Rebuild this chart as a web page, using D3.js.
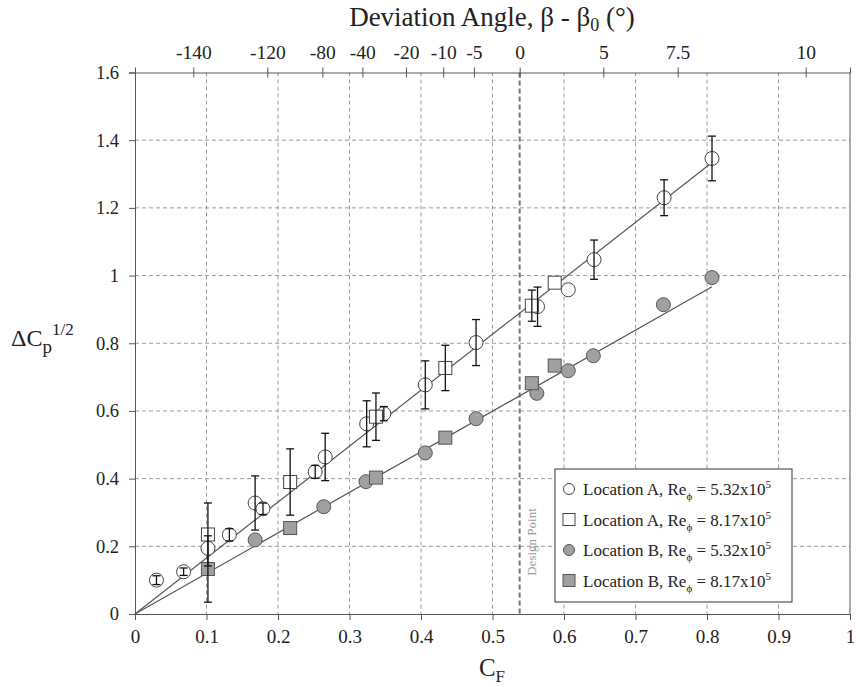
<!DOCTYPE html>
<html>
<head>
<meta charset="utf-8">
<script src="https://cdn.jsdelivr.net/npm/d3@7"></script>
<style>
  body { margin: 0; background: #fff; }
  svg text { font-family: "Times New Roman", "Liberation Serif", "DejaVu Serif", serif; fill: #222; }
</style>
</head>
<body>
<svg id="chart" width="856" height="687"></svg>
<script>
// Location A, Re = 5.32x10^5 (open circles): C_F, dCp^1/2, error
const locA532_cf  = [0.030, 0.068, 0.102, 0.132, 0.168, 0.179, 0.252, 0.266, 0.324, 0.348, 0.406, 0.477, 0.563, 0.606, 0.642, 0.740, 0.807];
const locA532_dcp = [0.100, 0.125, 0.194, 0.234, 0.328, 0.311, 0.420, 0.464, 0.562, 0.592, 0.677, 0.802, 0.908, 0.958, 1.047, 1.230, 1.346];
const locA532_err = [0.013, 0.011, 0.000, 0.018, 0.080, 0.017, 0.019, 0.070, 0.068, 0.021, 0.071, 0.068, 0.058, 0.000, 0.058, 0.053, 0.066];

// Location A, Re = 8.17x10^5 (open squares)
const locA817_cf  = [0.102, 0.217, 0.337, 0.434, 0.555, 0.587];
const locA817_dcp = [0.235, 0.390, 0.583, 0.727, 0.911, 0.979];
const locA817_err = [0.093, 0.098, 0.070, 0.067, 0.046, 0.000];

// Location B, Re = 5.32x10^5 (filled circles)
const locB532_cf  = [0.168, 0.264, 0.323, 0.406, 0.477, 0.562, 0.606, 0.641, 0.739, 0.807];
const locB532_dcp = [0.219, 0.317, 0.391, 0.476, 0.577, 0.652, 0.719, 0.763, 0.914, 0.994];

// Location B, Re = 8.17x10^5 (filled squares)
const locB817_cf  = [0.102, 0.217, 0.337, 0.434, 0.555, 0.587];
const locB817_dcp = [0.133, 0.254, 0.403, 0.521, 0.682, 0.734];
const locB817_err = [0.098, 0, 0, 0, 0, 0];

// linear fits (end points)
const fitA = [[0, 0], [0.807, 1.334]];
const fitB = [[0, 0], [0.807, 0.967]];

const designPoint = 0.538;

// axis ticks
const xTicks = [0, 0.1, 0.2, 0.3, 0.4, 0.5, 0.6, 0.7, 0.8, 0.9, 1];
const yTicks = [0, 0.2, 0.4, 0.6, 0.8, 1, 1.2, 1.4, 1.6];
const topTickPos    = [0.0815, 0.185, 0.262, 0.318, 0.379, 0.431, 0.474, 0.538, 0.655, 0.759, 0.938];
const topTickLabels = ['-140', '-120', '-80', '-40', '-20', '-10', '-5', '0', '5', '7.5', '10'];

const serif = '"Times New Roman", "Liberation Serif", "DejaVu Serif", serif';
const svg = d3.select('#chart');
const pLeft = 135, pRight = 850, pTop = 72.5, pBottom = 614;

const x = d3.scaleLinear().domain([0, 1]).range([pLeft, pRight]);
const y = d3.scaleLinear().domain([0, 1.6]).range([pBottom, pTop]);

// grid
svg.append('g').selectAll('line')
  .data(xTicks.slice(1, -1))
  .join('line')
  .attr('x1', d => x(d)).attr('x2', d => x(d))
  .attr('y1', pTop).attr('y2', pBottom)
  .style('stroke', '#9a9a9a').style('stroke-dasharray', '4,3').style('stroke-width', 1);

svg.append('g').selectAll('line')
  .data(yTicks.slice(1, -1))
  .join('line')
  .attr('x1', pLeft).attr('x2', pRight)
  .attr('y1', d => y(d)).attr('y2', d => y(d))
  .style('stroke', '#9a9a9a').style('stroke-dasharray', '4,3').style('stroke-width', 1);

// design point
svg.append('line')
  .attr('x1', x(designPoint)).attr('x2', x(designPoint))
  .attr('y1', pTop).attr('y2', pBottom)
  .style('stroke', '#777').style('stroke-width', 2).style('stroke-dasharray', '5,3');

svg.append('text')
  .attr('transform', `translate(${x(designPoint) + 16},542) rotate(-90)`)
  .attr('text-anchor', 'middle')
  .style('font-size', '13px')
  .style('fill', '#999')
  .text('Design Point');

// axes
const axisColor = '#555';
const xAxis = svg.append('g')
  .attr('transform', `translate(0,${pBottom})`)
  .call(d3.axisBottom(x).tickValues(xTicks).tickSizeOuter(0).tickSize(6).tickPadding(10)
    .tickFormat(d => d3.format('~g')(d)));

const yAxis = svg.append('g')
  .attr('transform', `translate(${pLeft},0)`)
  .call(d3.axisLeft(y).tickValues(yTicks).tickSizeOuter(0).tickSize(6).tickPadding(10)
    .tickFormat(d => d3.format('~g')(d)));

const topAxis = svg.append('g')
  .attr('transform', `translate(0,${pTop})`)
  .call(d3.axisTop(x).tickValues(topTickPos).tickSizeOuter(0).tickSize(5).tickPadding(9)
    .tickFormat((d, i) => topTickLabels[i]));
topAxis.selectAll('.tick line').attr('y1', 5).attr('y2', -5);

[xAxis, yAxis, topAxis].forEach(g => {
  g.attr('font-family', null);
  g.select('.domain').style('stroke', axisColor);
  g.selectAll('.tick line').style('stroke', axisColor);
  g.selectAll('text').style('font-family', serif).style('fill', '#222');
});
xAxis.selectAll('text').style('font-size', '19px');
yAxis.selectAll('text').style('font-size', '18.5px');
topAxis.selectAll('text').style('font-size', '19.5px');

svg.append('line')
  .attr('x1', pRight).attr('x2', pRight).attr('y1', pTop).attr('y2', pBottom)
  .style('stroke', axisColor);

// fits
const line = d3.line().x(d => x(d[0])).y(d => y(d[1]));
[fitA, fitB].forEach(f => {
  svg.append('path').attr('d', line(f))
    .style('fill', 'none').style('stroke', '#555').style('stroke-width', 1.2);
});

// markers
const fillGray = '#a0a0a0', strokeDark = '#555', strokeOpen = '#444';
const R = 7, S = 13;

function circles(cf, dcp, fill, stroke) {
  svg.append('g').selectAll('circle')
    .data(cf)
    .join('circle')
    .attr('cx', d => x(d))
    .attr('cy', (d, i) => y(dcp[i]))
    .attr('r', R)
    .style('fill', fill).style('stroke', stroke).style('stroke-width', 1);
}

function squares(cf, dcp, fill, stroke) {
  svg.append('g').selectAll('rect')
    .data(cf)
    .join('rect')
    .attr('x', d => x(d) - S / 2)
    .attr('y', (d, i) => y(dcp[i]) - S / 2)
    .attr('width', S).attr('height', S)
    .style('fill', fill).style('stroke', stroke).style('stroke-width', 1);
}

function errorBars(cf, dcp, err) {
  const g = svg.append('g');
  cf.forEach((c, i) => {
    if (!err[i]) return;
    const cx = x(c), y0 = y(dcp[i] - err[i]), y1 = y(dcp[i] + err[i]);
    g.append('line').attr('x1', cx).attr('x2', cx).attr('y1', y0).attr('y2', y1);
    g.append('line').attr('x1', cx - 4).attr('x2', cx + 4).attr('y1', y0).attr('y2', y0);
    g.append('line').attr('x1', cx - 4).attr('x2', cx + 4).attr('y1', y1).attr('y2', y1);
  });
  g.selectAll('line').style('stroke', '#111').style('stroke-width', 1.3);
}

circles(locB532_cf, locB532_dcp, fillGray, strokeDark);
squares(locB817_cf, locB817_dcp, fillGray, strokeDark);
circles(locA532_cf, locA532_dcp, '#fff', strokeOpen);
squares(locA817_cf, locA817_dcp, '#fff', strokeOpen);
errorBars(locB817_cf, locB817_dcp, locB817_err);
errorBars(locA532_cf, locA532_dcp, locA532_err);
errorBars(locA817_cf, locA817_dcp, locA817_err);

// legend
const legendItems = [
  { shape: 'circle', fill: '#fff', stroke: strokeOpen, loc: 'A', re: '5.32' },
  { shape: 'square', fill: '#fff', stroke: strokeOpen, loc: 'A', re: '8.17' },
  { shape: 'circle', fill: fillGray, stroke: strokeDark, loc: 'B', re: '5.32' },
  { shape: 'square', fill: fillGray, stroke: strokeDark, loc: 'B', re: '8.17' }
];
const lg = svg.append('g');
lg.append('rect').attr('x', 555).attr('y', 469).attr('width', 237).attr('height', 133)
  .style('fill', '#fff').style('stroke', '#333').style('stroke-width', 1);

legendItems.forEach((d, i) => {
  const cy = 489 + i * 30.5;
  if (d.shape === 'circle') {
    lg.append('circle').attr('cx', 569).attr('cy', cy).attr('r', 5.5)
      .style('fill', d.fill).style('stroke', d.stroke);
  } else {
    lg.append('rect').attr('x', 563).attr('y', cy - 6).attr('width', 12).attr('height', 12)
      .style('fill', d.fill).style('stroke', d.stroke);
  }
  const t = lg.append('text').attr('x', 583).attr('y', cy + 6).style('font-size', '17px');
  t.append('tspan').text(`Location ${d.loc}, Re`);
  t.append('tspan').attr('dy', 5).style('font-size', '11px').text('ϕ');
  t.append('tspan').attr('dy', -5).text(` = ${d.re}x10`);
  t.append('tspan').attr('dy', -7).style('font-size', '11px').text('5');
});

// titles
const xt = svg.append('text').attr('x', 492).attr('y', 676).attr('text-anchor', 'middle')
  .style('font-size', '25px');
xt.append('tspan').text('C');
xt.append('tspan').attr('dy', 6).style('font-size', '17px').text('F');

const yt = svg.append('text').attr('x', 11).attr('y', 346).style('font-size', '24px');
yt.append('tspan').text('ΔC');
yt.append('tspan').attr('dy', 7).style('font-size', '19px').text('p');
yt.append('tspan').attr('dy', -18).style('font-size', '17px').text('1/2');

const tt = svg.append('text').attr('x', 492).attr('y', 26).attr('text-anchor', 'middle')
  .style('font-size', '27px');
tt.append('tspan').text('Deviation Angle, β - β');
tt.append('tspan').attr('dy', 5).style('font-size', '18px').text('0');
tt.append('tspan').attr('dy', -5).text(' (°)');
</script>
</body>
</html>
